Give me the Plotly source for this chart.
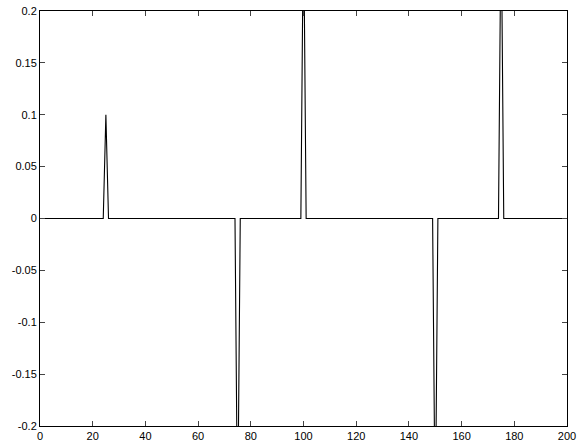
import plotly.graph_objects as go

# Signal samples (zero everywhere except impulses)
x_vals = [0, 24, 25, 26, 74, 75, 76, 99, 100, 101, 149, 150, 151, 174, 175, 176, 200]
y_vals = [0, 0, 0.1, 0, 0, -0.3, 0, 0, 0.3, 0, 0, -0.3, 0, 0, 0.3, 0, 0]

x_ticks = [0, 20, 40, 60, 80, 100, 120, 140, 160, 180, 200]
y_ticks = [-0.2, -0.15, -0.1, -0.05, 0, 0.05, 0.1, 0.15, 0.2]
y_ticklabels = ["-0.2", "-0.15", "-0.1", "-0.05", "0", "0.05", "0.1", "0.15", "0.2"]

fig = go.Figure()
fig.add_trace(go.Scatter(x=x_vals, y=y_vals, mode="lines",
                         line=dict(color="black", width=1.1), showlegend=False))

font = dict(family="Liberation Sans, Arial, sans-serif", size=11, color="black")

fig.update_layout(
    width=581, height=446,
    margin=dict(l=40, r=14, t=11, b=20),
    paper_bgcolor="white", plot_bgcolor="white",
    font=font,
    xaxis=dict(range=[0, 200], tickvals=x_ticks, ticks="inside", ticklen=5,
               showline=True, linecolor="black", linewidth=1, mirror="ticks",
               showgrid=False, zeroline=False, tickfont=font, automargin=False,
               ticklabeloverflow="allow"),
    yaxis=dict(range=[-0.2, 0.2], tickvals=y_ticks, ticktext=y_ticklabels,
               ticks="inside", ticklen=5,
               showline=True, linecolor="black", linewidth=1, mirror="ticks",
               showgrid=False, zeroline=False, tickfont=font, automargin=False,
               ticklabeloverflow="allow"),
)

fig.write_html("out.html",
               config={"displayModeBar": False},
               post_script="document.body.style.margin='0';document.body.style.overflow='hidden';")
